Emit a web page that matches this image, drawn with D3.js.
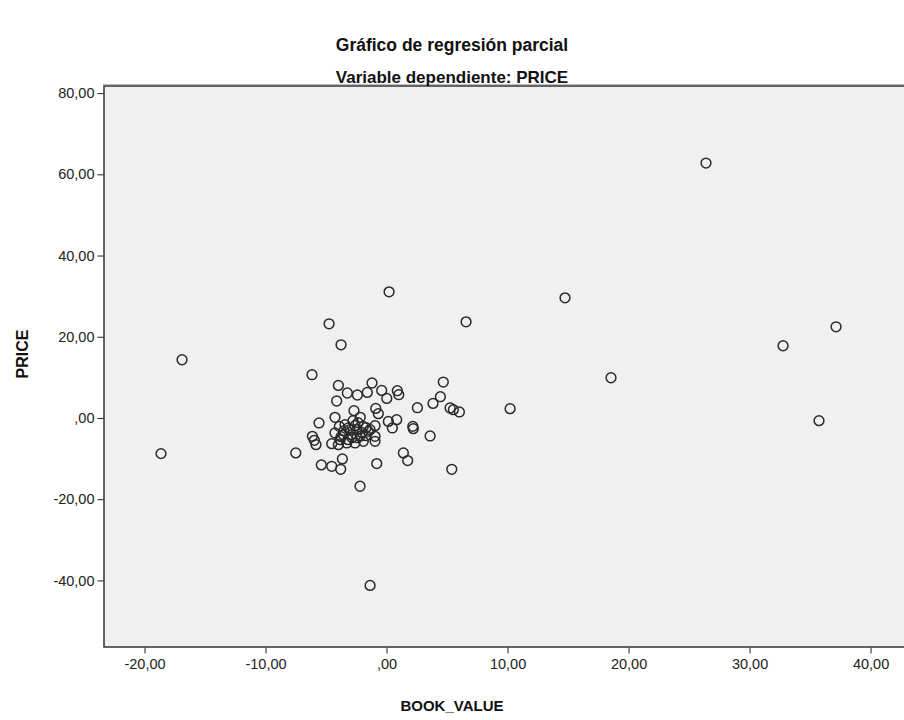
<!DOCTYPE html>
<html>
<head>
<meta charset="utf-8">
<script src="https://cdn.jsdelivr.net/npm/d3@7"></script>
<style>
  body { margin: 0; background: #fff; }
  svg { display: block; font-family: "Liberation Sans", Arial, sans-serif; }
  .tick text { font-size: 14.5px; fill: #222; }
  .tick line { stroke: #222; }
</style>
</head>
<body>
<div id="chart"></div>
<script>
// partial regression residuals
var bookValue = [
  26.40, 0.21, 14.75, -4.75, 6.57, 37.15, -16.90, -3.76, 32.77, -6.16,
  18.55, 10.21, 35.74, -18.64, -7.50, -1.36, -2.19, 5.39,
  -3.98, -3.24, -2.41, -1.59, -1.20, -0.40, 0.02, 0.89, 1.01, -4.12,
  2.55, 4.69, 4.45, 3.84, 5.25, 5.52, 6.02, -2.69, -0.89, -0.68,
  -2.17, -4.26, -5.58, 0.15, 0.84, 0.48, 2.17, 2.21, 3.60, -0.95,
  -1.36, -0.95, -0.95, -6.13, -5.97, -5.83, -4.53, -5.39, -4.53, -3.65,
  -3.79, -0.81, 1.39, 1.75,
  -3.90, -3.16, -2.46, -1.92, -1.50, -3.57, -2.88, -2.19, -3.84, -3.29,
  -2.60, -1.92, -4.26, -3.98, -3.43, -2.36, -2.85, -1.69, -2.77,
  -3.02, -2.44, -3.51, -2.02, -3.18, -2.60, -1.69, -3.76
];
var price = [
  62.78, 31.06, 29.58, 23.19, 23.68, 22.45, 14.34, 18.02, 17.78, 10.65,
  9.91, 2.29, -0.66, -8.78, -8.61, -41.24, -16.82, -12.64,
  8.02, 6.15, 5.66, 6.30, 8.61, 6.79, 4.82, 6.71, 5.73, 4.18,
  2.53, 8.85, 5.24, 3.59, 2.46, 2.04, 1.48, 1.80, 2.36, 1.06,
  0.15, 0.15, -1.23, -0.84, -0.42, -2.46, -2.07, -2.63, -4.43, -1.89,
  -2.88, -4.52, -5.75, -4.52, -5.51, -6.57, -6.32, -11.56, -11.90, -10.08,
  -12.64, -11.24, -8.61, -10.50,
  -2.07, -2.46, -2.88, -2.07, -3.30, -4.11, -4.11, -4.52, -5.34, -6.15,
  -6.15, -5.75, -3.69, -6.57, -1.65, -1.16, -4.84, -4.35, -0.66,
  -2.88, -4.84, -3.12, -3.61, -5.34, -1.89, -2.39, -4.60
];
var xTicks = [-20, -10, 0, 10, 20, 30, 40];
var yTicks = [-40, -20, 0, 20, 40, 60, 80];

var title = "Gráfico de regresión parcial";
var subtitle = "Variable dependiente: PRICE";
var xLabel = "BOOK_VALUE";
var yLabel = "PRICE";

var W = 904, H = 720;
var pLeft = 104, pTop = 86, pRight = 910, pBottom = 647;

var x = d3.scaleLinear().domain([-23.35, 43.26]).range([pLeft, pRight]);
var y = d3.scaleLinear().domain([-56.4, 81.75]).range([pBottom, pTop]);

var loc = d3.formatLocale({ decimal: ",", thousands: ".", grouping: [3], currency: ["", ""], minus: "-" });
var f2 = loc.format(".2f");
function fmt(v) { return f2(v).replace(/^(-?)0,/, "$1,"); }

var svg = d3.select("#chart").append("svg").attr("width", W).attr("height", H);

svg.append("rect")
  .attr("x", pLeft).attr("y", pTop)
  .attr("width", pRight - pLeft).attr("height", pBottom - pTop)
  .attr("fill", "#f0f0f0");

// frame: left, top, bottom (right edge falls outside the picture)
svg.append("path")
  .attr("d", "M" + pRight + "," + (pTop - 1.5) + "H" + (pLeft - 1))
  .attr("fill", "none").attr("stroke", "#bbb").attr("stroke-width", 1);
svg.append("path")
  .attr("d", "M" + pRight + "," + pTop + "H" + pLeft + "V" + pBottom + "H" + pRight)
  .attr("fill", "none").attr("stroke", "#333").attr("stroke-width", 1.5);

var gx = svg.append("g")
  .attr("transform", "translate(0," + (pBottom + 0.5) + ")")
  .call(d3.axisBottom(x).tickValues(xTicks).tickFormat(fmt).tickSize(6).tickPadding(5));
gx.select(".domain").remove();

var gy = svg.append("g")
  .attr("transform", "translate(" + (pLeft - 0.5) + ",0)")
  .call(d3.axisLeft(y).tickValues(yTicks).tickFormat(fmt).tickSize(6).tickPadding(3));
gy.select(".domain").remove();

var pts = bookValue.map(function(d, i) { return [d, price[i]]; });

svg.append("g").selectAll("circle")
  .data(pts)
  .enter()
  .append("circle")
  .attr("cx", function(d) { return x(d[0]); })
  .attr("cy", function(d) { return y(d[1]); })
  .attr("r", 4.9)
  .attr("fill", "none")
  .attr("stroke", "#2a2a2a")
  .attr("stroke-width", 1.5);

svg.append("text")
  .attr("x", 452).attr("y", 51)
  .attr("text-anchor", "middle")
  .attr("font-size", "17.5px").attr("font-weight", "bold").attr("fill", "#111")
  .text(title);

svg.append("text")
  .attr("x", 452).attr("y", 83)
  .attr("text-anchor", "middle")
  .attr("font-size", "17px").attr("font-weight", "bold").attr("fill", "#111")
  .text(subtitle);

svg.append("text")
  .attr("x", 452).attr("y", 711)
  .attr("text-anchor", "middle")
  .attr("font-size", "15px").attr("font-weight", "bold").attr("fill", "#111")
  .text(xLabel);

svg.append("text")
  .attr("transform", "translate(28,354) rotate(-90)")
  .attr("text-anchor", "middle")
  .attr("font-size", "16px").attr("font-weight", "bold").attr("fill", "#111")
  .text(yLabel);
</script>
</body>
</html>
